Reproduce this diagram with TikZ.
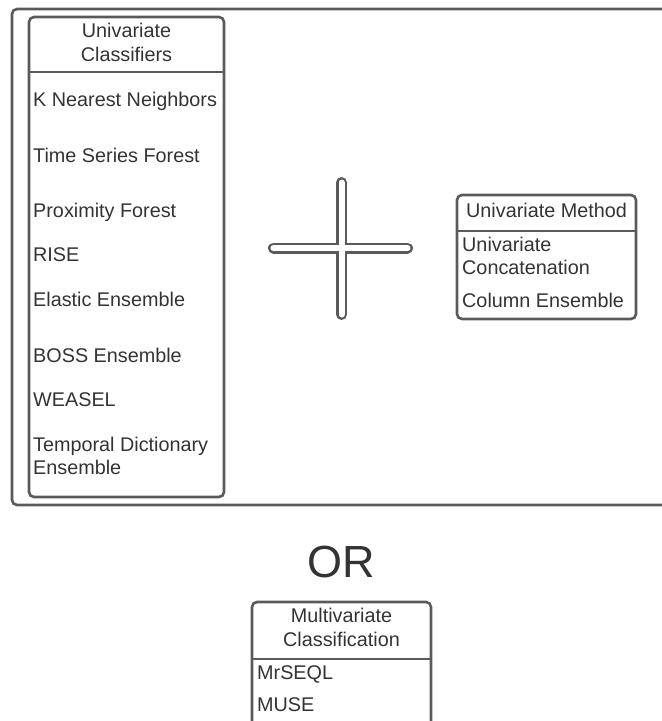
\documentclass[tikz,border=0pt]{standalone}
\usepackage{fontspec}
\setmainfont{Liberation Sans}
\usepackage{tikz}
\usetikzlibrary{calc}
\definecolor{ink}{HTML}{333333}
\definecolor{edge}{HTML}{5A5A5A}

\begin{document}
\begin{tikzpicture}[x=1pt,y=-1pt,
  box/.style={draw=edge,line width=2.6pt,rounded corners=5pt},
  item/.style={anchor=base west,inner sep=0pt,text=ink,align=left,
    font=\fontsize{19.8}{23}\selectfont},
  head/.style={anchor=base,inner sep=0pt,text=ink,align=center,
    font=\fontsize{19.8}{23.5}\selectfont}]
 \path[use as bounding box,clip] (0,0) rectangle (662,721);
 % outer frame, running off the right edge
 \draw[box] (12,9) rectangle (690,505);
 % univariate classifiers (base of a two-line node = its last line)
 \draw[box] (29,17) coordinate (uc-nw) rectangle (224,497) coordinate (uc-se);
 \draw[edge,line width=2.6pt] (29,72)--(224,72);
 \node[head] (uc-head) at (126.5,61) {Univariate\\Classifiers};
 \foreach \t/\y [count=\i] in {K Nearest Neighbors/106,Time Series Forest/162,
   Proximity Forest/217,RISE/261,Elastic Ensemble/306,BOSS Ensemble/362,
   WEASEL/406,Temporal Dictionary\\Ensemble/474}
  \node[item] (uc-\i) at (33,\y) {\t};
 % plus sign
 \draw[edge,line width=11pt,line cap=round]
  (273.5,248)--(407.5,248) (341.5,182.5)--(341.5,314.5);
 \draw[white,line width=6pt,line cap=round]
  (273.5,248)--(407.5,248) (341.5,182.5)--(341.5,314.5);
 % univariate method
 \draw[box] (457,195) rectangle (636,319);
 \draw[edge,line width=2.6pt] (457,231)--(636,231);
 \node[head] (um-head) at (546.5,217) {Univariate Method};
 \node[item] (um-1) at (462,274) {Univariate\\Concatenation};
 \node[item] (um-2) at (462,307) {Column Ensemble};
 % or
 \node[anchor=base,inner sep=0pt,text=ink,font=\fontsize{45}{50}\selectfont]
  (or) at (341,577) {OR};
 % multivariate classification
 \draw[box] (252,602) rectangle (431,760);
 \draw[edge,line width=2.6pt] (252,659)--(431,659);
 \node[head] (mc-head) at (341.5,646) {Multivariate\\Classification};
 \node[item] (mc-1) at (257,679) {MrSEQL};
 \node[item] (mc-2) at (257,711) {MUSE};
\end{tikzpicture}
\end{document}
